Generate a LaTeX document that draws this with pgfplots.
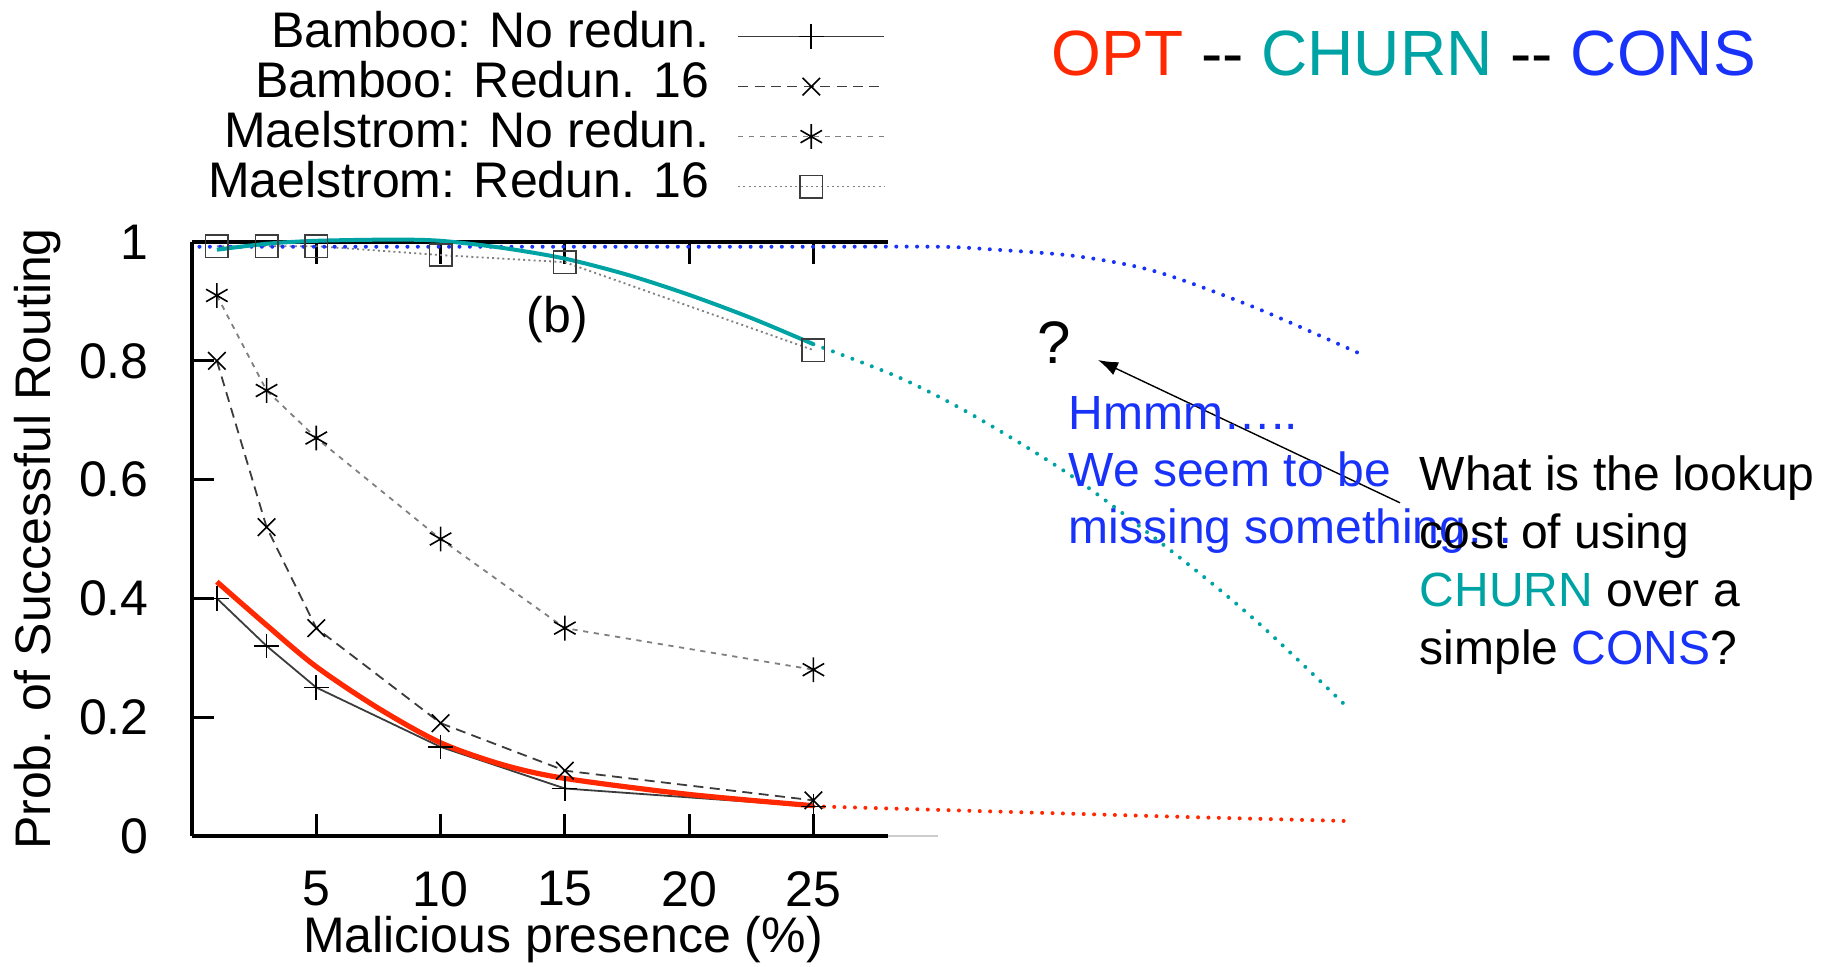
\documentclass[border=0pt]{standalone}
\usepackage{fontspec}
\setmainfont{Liberation Sans}
\usepackage{pgfplots}
\pgfplotsset{compat=1.18}
\usetikzlibrary{arrows.meta}
\definecolor{optred}{RGB}{255,40,0}
\definecolor{churnteal}{RGB}{0,163,163}
\definecolor{consblue}{RGB}{25,50,250}
\definecolor{dgray}{RGB}{60,60,60}
\begin{document}
\begin{tikzpicture}
\useasboundingbox (0,0) rectangle (458pt,241.5pt);
\begin{axis}[
  at={(48pt,32.5pt)}, anchor=south west,
  scale only axis, width=174pt, height=148.5pt,
  xmin=0, xmax=28, ymin=0, ymax=1,
  clip=false,
  axis x line=box, axis y line=left,
  axis line style={-, line width=0.8pt},
  xtick={5,10,15,20,25}, ytick={0,0.2,0.4,0.6,0.8,1},
  tick align=inside,
  major tick length=5.6pt,
  every tick/.style={black, line width=0.7pt},
  tick label style={font=\fontsize{12.5}{15}\selectfont},
  /pgf/number format/assume math mode=true,
  yticklabel style={xshift=-7.3pt},
  xticklabel style={yshift=-5.3pt},
  xlabel={Malicious presence (\%)},
  ylabel={Prob. of Successful Routing},
  label style={font=\fontsize{12.5}{15}\selectfont},
  xlabel style={at={(axis description cs:0.533,0)}, anchor=base, yshift=-29pt},
  ylabel style={at={(axis description cs:-0.204,0.5)}, anchor=base},
  legend style={draw=none, fill=none, at={(rel axis cs:1,1)}, anchor=south east, xshift=-0.5pt, yshift=7.4pt, font=\fontsize{12.5}{15}\selectfont, row sep=0pt, column sep=7pt, inner sep=0pt, nodes={inner sep=0pt, text height=9pt, text depth=3.5pt}},
  legend cell align=right,
  legend plot pos=right,
  legend image code/.code={\draw[mark repeat=2,mark phase=2,#1] plot coordinates {(0pt,0pt) (18.25pt,0pt) (36.5pt,0pt)};},
]
\addplot[dgray, line width=0.45pt, mark=+, mark size=3.1pt, mark options={black, line width=0.4pt}] coordinates {(1,0.40)(3,0.32)(5,0.25)(10,0.15)(15,0.08)(25,0.05)};
\addlegendentry{Bamboo: No redun.}
\addplot[dgray, line width=0.45pt, dash pattern=on 2.5pt off 1.6pt, mark=x, mark size=3.1pt, mark options={solid,black, line width=0.4pt}] coordinates {(1,0.80)(3,0.52)(5,0.35)(10,0.19)(15,0.11)(25,0.06)};
\addlegendentry{Bamboo: Redun. 16}
\addplot[gray, line width=0.45pt, dash pattern=on 1.3pt off 1.4pt, mark=asterisk, mark size=3.1pt, mark options={solid,black, line width=0.4pt}] coordinates {(1,0.91)(3,0.75)(5,0.67)(10,0.50)(15,0.35)(25,0.28)};
\addlegendentry{Maelstrom: No redun.}
\addplot[gray, line width=0.45pt, dash pattern=on 0.5pt off 0.8pt, mark=square, mark size=2.8pt, mark options={solid,dgray, line width=0.4pt}] coordinates {(1,0.993)(3,0.993)(5,0.993)(10,0.978)(15,0.966)(25,0.818)};
\addlegendentry{Maelstrom: Redun. 16}
\addplot[gray!40, line width=0.4pt, forget plot] coordinates {(28,0)(30,0)};
% CONS (blue dotted)
\addplot[consblue, line width=1pt, line cap=round, dash pattern=on 0pt off 2.6pt, smooth, forget plot] coordinates {(0.3,0.992)(5,0.992)(10,0.992)(15,0.992)(20,0.992)(25,0.992)(30,0.992)(32,0.988)(35.6,0.976)(38.8,0.950)(42.8,0.889)(47.2,0.808)};
% CHURN dotted extension
\addplot[churnteal, line width=1pt, line cap=round, dash pattern=on 0pt off 2.6pt, smooth, forget plot] coordinates {(25,0.828)(28.5,0.771)(31.6,0.704)(35.6,0.60)(40,0.46)(43,0.355)(46.4,0.22)};
% CHURN solid
\addplot[churnteal, line width=1pt, smooth, forget plot] coordinates {(1,0.987)(3,0.997)(5,1.002)(8,1.004)(10,1.002)(12.5,0.99)(15,0.972)(17.5,0.945)(20,0.911)(22.5,0.872)(25,0.828)};
% OPT dotted extension
\addplot[optred, line width=1pt, line cap=round, dash pattern=on 0pt off 2.6pt, forget plot] coordinates {(25,0.05)(30,0.044)(35,0.038)(40,0.032)(46.7,0.025)};
% OPT solid
\addplot[optred, line width=1.3pt, smooth, forget plot] coordinates {(1,0.428)(3,0.355)(5,0.285)(7.5,0.215)(10,0.157)(12.5,0.12)(15,0.097)(20,0.07)(25,0.051)};
\node[font=\fontsize{12.5}{15}\selectfont] at (axis cs:14.7,0.87) {(b)};
\end{axis}
\node[anchor=base west, font=\fontsize{16}{19}\selectfont, inner sep=0pt] at (262.75pt,222.5pt) {\textcolor{optred}{OPT} {-}{-} \textcolor{churnteal}{CHURN} {-}{-} \textcolor{consblue}{CONS}};
\node[anchor=base west, font=\fontsize{15}{18}\selectfont, inner sep=0pt] at (259.25pt,150.6pt) {?};
\draw[-{Latex[length=5pt,width=3.5pt]}, line width=0.35pt] (350pt,115.8pt) -- (274.5pt,151.5pt);
\begin{scope}[every node/.style={anchor=base west, inner sep=0pt, font=\fontsize{12}{14.4}\selectfont}]
\node[text=consblue] at (267pt,134.25pt) {Hmmm…..};
\node[text=consblue] at (267pt,120pt) {We seem to be};
\node[text=consblue] at (267pt,105.75pt) {missing something…};
\node at (354.75pt,118.9pt) {What is the lookup};
\node at (354.75pt,104.4pt) {cost of using};
\node at (354.75pt,89.9pt) {\textcolor{churnteal}{CHURN} over a};
\node at (354.75pt,75.4pt) {simple \textcolor{consblue}{CONS}?};
\end{scope}
\end{tikzpicture}
\end{document}
